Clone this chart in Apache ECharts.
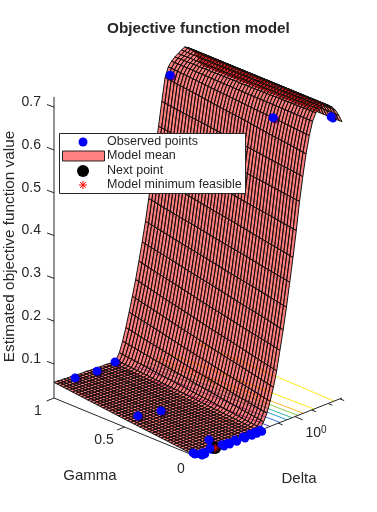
<!DOCTYPE html>
<html>
<head>
<meta charset="utf-8">
<style>
html, body { margin: 0; padding: 0; background: #fff; }
#chart { width: 377px; height: 512px; }
</style>
<script src="https://cdn.jsdelivr.net/npm/echarts@6/dist/echarts.min.js"></script>
</head>
<body>
<div id="chart"></div>
<script>
// surface values: one row per delta step (log axis, 0..1 along it),
// three columns read along gamma. Mesh lines between columns are blended when drawn.
var surfaceGamma0 = [.022,.022,.022,.022,.022,.022,.022,.022,.022,.022,.022,.022,.022,.022,.022,.022,.023,.023,.023,.024,.026,.037,.054,.079,.109,.144,.189,.234,.284,.339,.394,.454,.519,.574,.624,.664,.694,.711,.716,.719,.720,.716,.709,.699,.684,.666];
var surfaceGammaMid = [.039,.039,.039,.038,.038,.038,.038,.038,.037,.037,.037,.037,.037,.037,.036,.036,.036,.036,.036,.038,.046,.062,.084,.114,.146,.182,.224,.269,.316,.369,.424,.479,.539,.594,.646,.676,.696,.708,.713,.717,.720,.716,.709,.699,.684,.665];
var surfaceGamma1 = [.057,.057,.056,.056,.055,.055,.054,.054,.053,.053,.053,.052,.052,.052,.051,.051,.051,.050,.050,.052,.066,.090,.119,.152,.186,.222,.262,.304,.349,.399,.452,.504,.559,.614,.667,.689,.699,.706,.711,.716,.720,.716,.709,.699,.684,.664];
var gammaSteps = 46;

var obsGamma = [1, .26, .078, 1, .95, .95, .5, .46, .014, 0, 0, .05, 0, 0, 0, 0, 0, 0, 0, 0];
var obsDeltaPos = [.789, .78, 1, .143, .245, .367, .09, .21, 0, .034, .055, .143, .102, .184, .224, .272, .327, .374, .408, .442];
var obsValue = [.668, .670, .667, .048, .057, .062, .034, .035, .026, .021, .021, .032, .025, .022, .021, .021, .021, .021, .021, .021];
var nextPoint = [0, .136, .021];
var minFeasible = [0, .136, .021];

// floor contours: position along delta at gamma 0 and at gamma 1
var contourAtGamma0 = [.946, .81, .737, .70, .66, .625, .578, .51];
var contourAtGamma1 = [.965, .775, .70, .665, .625, .59, .55, .48];
var contourColors = ['#f9e81c', '#f9e81c', '#fdb42e', '#8fc84a', '#2cb7a0', '#2c9fd8', '#3a6ff0', '#4a3ac0'];

var zTicks = [0.1, 0.2, 0.3, 0.4, 0.5, 0.6, 0.7];
var gammaTicks = [0, 0.5, 1];
var deltaTickPos = [.567, .68, .794, .906, .986];
var legendNames = ['Observed points', 'Model mean', 'Next point', 'Model minimum feasible'];

var FONT = '"Liberation Sans", Arial, sans-serif';
var INK = '#262626';
var Z_FLOOR = 0.0205;
var Z_TOP = 0.724;

// fixed 3d view: gamma, delta position, value -> page position
function project(g, t, z) {
    return [195 - 141 * g + 147 * t, 456 - 58 * g - 58 * t - (z - Z_FLOOR) * 428];
}

function surfaceAt(i, g) {
    if (g < 0.5) {
        return surfaceGamma0[i] + (surfaceGammaMid[i] - surfaceGamma0[i]) * g * 2;
    }
    return surfaceGammaMid[i] + (surfaceGamma1[i] - surfaceGammaMid[i]) * (g - 0.5) * 2;
}

var rows = surfaceGamma0.length - 1;
var cells = [];
for (var i = rows - 1; i >= 0; i--) {
    for (var j = gammaSteps - 1; j >= 0; j--) {
        cells.push([i, j]);
    }
}

function renderCell(params, api) {
    var i = api.value(0), j = api.value(1);
    var g0 = j / gammaSteps, g1 = (j + 1) / gammaSteps;
    var t0 = i / rows, t1 = (i + 1) / rows;
    var pts = [
        project(g0, t0, surfaceAt(i, g0)),
        project(g1, t0, surfaceAt(i, g1)),
        project(g1, t1, surfaceAt(i + 1, g1)),
        project(g0, t1, surfaceAt(i + 1, g0))
    ].map(function (p) { return api.coord(p); });
    return {
        type: 'polygon',
        shape: { points: pts },
        style: { fill: 'rgba(255,0,0,0.5)', stroke: '#111', lineWidth: 1 }
    };
}

function lineEl(api, a, b, color, width) {
    var p = api.coord(a), q = api.coord(b);
    return {
        type: 'line',
        shape: { x1: p[0], y1: p[1], x2: q[0], y2: q[1] },
        style: { stroke: color, lineWidth: width || 1 }
    };
}

function textEl(api, pos, str, align, size, rotation) {
    var p = api.coord(pos);
    return {
        type: 'text',
        x: p[0], y: p[1],
        rotation: rotation || 0,
        style: { text: str, fill: INK, font: (size || 14) + 'px ' + FONT, align: align || 'center', verticalAlign: 'middle' }
    };
}

function renderContour(params, api) {
    var k = params.dataIndex;
    return lineEl(api, project(0, contourAtGamma0[k], Z_FLOOR), project(1, contourAtGamma1[k], Z_FLOOR), contourColors[k], 1);
}

function renderAxes(params, api) {
    var kids = [
        lineEl(api, project(1, 0, Z_FLOOR), project(1, 0, Z_TOP), INK),
        lineEl(api, project(1, 0, Z_FLOOR), project(0, 0, Z_FLOOR), INK),
        lineEl(api, project(0, 0, Z_FLOOR), project(0, 1, Z_FLOOR), INK)
    ];
    zTicks.forEach(function (v) {
        var a = project(1, 0, v);
        kids.push(lineEl(api, a, [a[0] - 7, a[1] - 2.6], INK));
        kids.push(textEl(api, [41, a[1] - 5], v.toFixed(1), 'right'));
    });
    gammaTicks.forEach(function (v) {
        var a = project(v, 0, Z_FLOOR);
        if (v > 0) {
            kids.push(lineEl(api, a, [a[0] - 7.4, a[1] + 3], INK));
        }
    });
    deltaTickPos.forEach(function (v, n) {
        var a = project(0, v, Z_FLOOR);
        var len = n === 1 ? 1.1 : 0.6;
        kids.push(lineEl(api, a, [a[0] + 7 * len, a[1] + 3 * len], INK));
    });
    kids.push(textEl(api, [38, 411], '1'));
    kids.push(textEl(api, [104, 440], '0.5'));
    kids.push(textEl(api, [181, 469], '0'));
    kids.push(textEl(api, [90, 476], 'Gamma', 'center', 15));
    kids.push(textEl(api, [299, 479], 'Delta', 'center', 15));
    kids.push(textEl(api, [10, 246.5], 'Estimated objective function value', 'center', 15.3, Math.PI / 2));
    var p = api.coord([316, 433]);
    kids.push({
        type: 'text', x: p[0], y: p[1],
        style: {
            text: '{b|10}{s|0}',
            align: 'center', verticalAlign: 'middle',
            rich: {
                b: { font: '14px ' + FONT, fill: INK },
                s: { font: '10px ' + FONT, fill: INK, verticalAlign: 'top', padding: [0, 0, 6, 0] }
            }
        }
    });
    return { type: 'group', children: kids };
}

function circleAt(api, pos, r, fill, dx, dy) {
    var p = api.coord(pos);
    return { type: 'circle', shape: { cx: p[0] + (dx || 0), cy: p[1] + (dy || 0), r: r }, style: { fill: fill } };
}

function renderPointBehind(params, api) {
    var k = params.dataIndex;
    return circleAt(api, project(obsGamma[k], obsDeltaPos[k], obsValue[k]), 4.2, '#0000ff', 2, 1.5);
}

function renderPoint(params, api) {
    var k = params.dataIndex;
    return circleAt(api, project(obsGamma[k], obsDeltaPos[k], obsValue[k]), 4.4, '#0000ff');
}

function renderNext(params, api) {
    return circleAt(api, project(nextPoint[0], nextPoint[1], nextPoint[2]), 6.2, '#000');
}

function starLines(x, y, r, color) {
    var out = [];
    for (var a = 0; a < 4; a++) {
        var ang = a * Math.PI / 4;
        out.push({
            type: 'line',
            z: 100,
            shape: { x1: x - r * Math.cos(ang), y1: y - r * Math.sin(ang), x2: x + r * Math.cos(ang), y2: y + r * Math.sin(ang) },
            style: { stroke: color, lineWidth: 1 }
        });
    }
    return out;
}

function renderStar(params, api) {
    var p = api.coord(project(minFeasible[0], minFeasible[1], minFeasible[2]));
    return { type: 'group', children: starLines(p[0], p[1], 4, '#ff0000') };
}

var indexOnly = function (arr) { return arr.map(function (v, n) { return [n]; }); };

function customSeries(render, data, z) {
    return { type: 'custom', renderItem: render, data: data, z: z, silent: true, animation: false, clip: false };
}

// legend box drawn over the plot
var legendY = [142, 156, 171, 185];
var legendEls = [
    { type: 'rect', z: 99, shape: { x: 59.5, y: 133.5, width: 186, height: 60 }, style: { fill: '#fff', stroke: INK, lineWidth: 1 } },
    { type: 'circle', z: 100, shape: { cx: 83, cy: legendY[0], r: 4.5 }, style: { fill: '#0000ff' } },
    { type: 'rect', z: 100, shape: { x: 62.5, y: 151, width: 42, height: 10 }, style: { fill: '#ff8080', stroke: INK, lineWidth: 1 } },
    { type: 'circle', z: 100, shape: { cx: 83, cy: legendY[2], r: 6 }, style: { fill: '#000' } }
].concat(starLines(83, legendY[3], 4, '#ff0000'));
legendNames.forEach(function (name, n) {
    legendEls.push({
        type: 'text', z: 100, x: 107, y: legendY[n],
        style: { text: name, fill: INK, font: '12.5px ' + FONT, align: 'left', verticalAlign: 'middle' }
    });
});

var myChart = echarts.init(document.getElementById('chart'));
var option = {
    animation: false,
    backgroundColor: '#fff',
    title: {
        text: 'Objective function model',
        left: 102, top: 16,
        textStyle: { color: INK, fontFamily: FONT, fontSize: 15.3, fontWeight: 'bold' }
    },
    grid: { left: 0, right: 0, top: 0, bottom: 0 },
    xAxis: { type: 'value', min: 0, max: 377, show: false },
    yAxis: { type: 'value', min: 0, max: 512, inverse: true, show: false },
    graphic: { elements: legendEls },
    series: [
        customSeries(renderContour, indexOnly(contourColors), 1),
        customSeries(renderAxes, [[0]], 2),
        customSeries(renderPointBehind, indexOnly(obsValue), 3),
        customSeries(renderCell, cells, 4),
        customSeries(renderNext, [[0]], 5),
        customSeries(renderStar, [[0]], 6),
        customSeries(renderPoint, indexOnly(obsValue), 7)
    ]
};
myChart.setOption(option);
</script>
</body>
</html>
